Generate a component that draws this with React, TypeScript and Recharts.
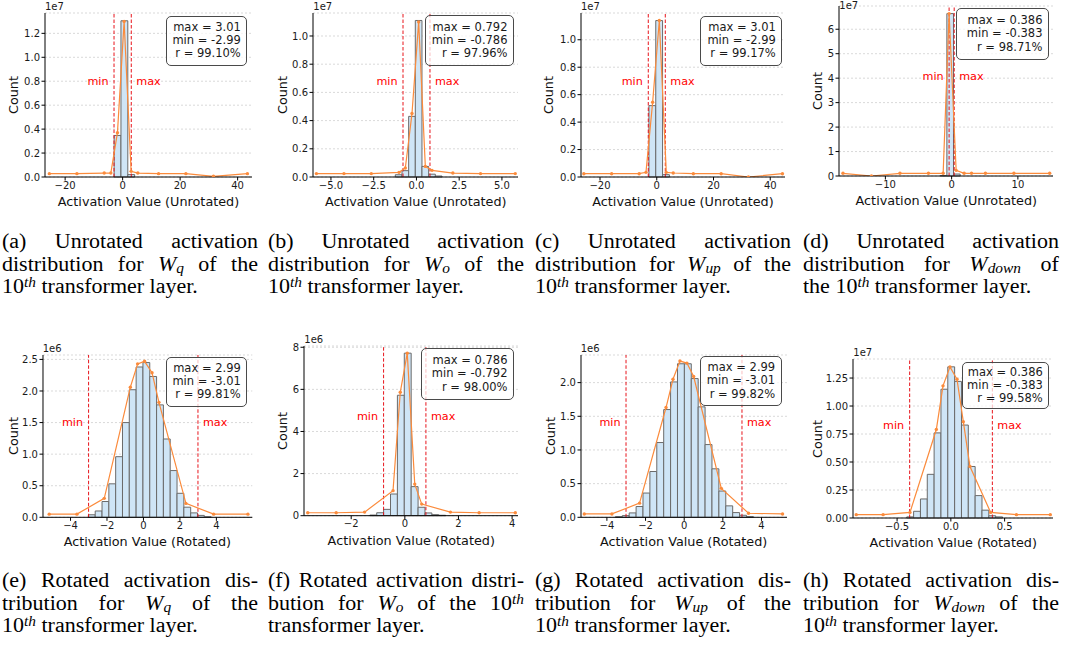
import React from "react";
import {
  ComposedChart,
  Line,
  XAxis,
  YAxis,
  CartesianGrid,
  ReferenceArea,
  ReferenceLine,
} from "recharts";

// ---- histogram bins (counts in units of the axis offset: 1e7 / 1e6) ----
const aBinStart = -2.96;
const aBinWidth = 2.38;
const aCounts = [0.347, 1.305, 0.02];
const bBinStart = -1.236;
const bBinWidth = 0.39;
const bCounts = [0.016, 0.045, 0.43, 1.11, 0.075, 0.02, 0.007];
const cBinStart = -2.75;
const cBinWidth = 2.4;
const cCounts = [0.52, 1.14, 0.017];
const dBinStart = -1.72;
const dBinWidth = 1.0;
const dCounts = [0.02, 6.64, 0.08];
const eBinStart = -3.02;
const eBinWidth = 0.374;
const eCounts = [0.04, 0.1, 0.25, 0.53, 0.96, 1.5, 2.02, 2.38, 2.45, 2.23, 1.78, 1.24, 0.74, 0.38, 0.16, 0.07, 0.03, 0.01];
const fBinStart = -1.305;
const fBinWidth = 0.257;
const fCounts = [0.03, 0.14, 0.3, 1.03, 5.72, 7.72, 1.38, 0.4, 0.13, 0.05, 0.02];
const gBinStart = -3.56;
const gBinWidth = 0.357;
const gCounts = [0.01, 0.025, 0.065, 0.16, 0.36, 0.68, 1.11, 1.6, 2.01, 2.28, 2.28, 2.06, 1.64, 1.08, 0.72, 0.39, 0.17, 0.07, 0.03, 0.01];
const hBinStart = -0.41;
const hBinWidth = 0.0636;
const hCounts = [0.01, 0.06, 0.17, 0.39, 0.76, 1.15, 1.35, 1.22, 0.83, 0.46, 0.2, 0.07, 0.02, 0.01];

// ---- orange outline curves ----
const aCurveX = [-25.5, -15.9, -6.4, -4.1, -1.8, 0.52, 2.96, 5.28, 12.5, 22.0, 31.6, 43.4];
const aCurveY = [0.028, 0.028, 0.033, 0.033, 0.37, 1.3, 0.047, 0.033, 0.028, 0.028, 0.006, 0.028];
const bCurveX = [-5.85, -4.24, -2.64, -1.02, -0.65, -0.26, 0.13, 0.52, 0.91, 2.13, 3.75, 5.78];
const bCurveY = [0.024, 0.024, 0.024, 0.033, 0.064, 0.45, 1.1, 0.075, 0.047, 0.028, 0.024, 0.024];
const cCurveX = [-25.7, -15.9, -6.2, -3.8, -1.45, 0.9, 3.36, 5.8, 12.9, 22.7, 32.3, 44.3];
const cCurveY = [0.024, 0.024, 0.024, 0.034, 0.545, 1.14, 0.034, 0.029, 0.024, 0.024, 0.0, 0.024];
const dCurveX = [-16.4, -12.1, -7.8, -3.5, -1.28, -0.38, 0.68, 1.89, 3.0, 5.1, 9.4, 14.8];
const dCurveY = [0.11, 0.0, 0.11, 0.11, 0.11, 6.64, 0.23, 0.11, 0.11, 0.11, 0.11, 0.11];
const eCurveX = [-5.17, -3.65, -2.15, -0.72, -0.32, 0.06, 0.47, 0.85, 2.33, 3.85, 5.73];
const eCurveY = [0.05, 0.05, 0.3, 2.06, 2.43, 2.47, 2.29, 1.82, 0.22, 0.05, 0.05];
const fCurveX = [-3.62, -2.56, -1.5, -0.44, -0.17, 0.09, 0.37, 0.63, 1.7, 2.77, 4.12];
const fCurveY = [0.14, 0.14, 0.17, 1.19, 5.86, 7.72, 1.5, 0.55, 0.17, 0.14, 0.14];
const gCurveX = [-5.17, -3.74, -2.31, -0.94, -0.58, -0.22, 0.14, 0.49, 1.92, 3.33, 5.09];
const gCurveY = [0.05, 0.05, 0.21, 1.63, 2.05, 2.32, 2.29, 2.09, 0.43, 0.06, 0.05];
const hCurveX = [-0.88, -0.63, -0.38, -0.135, -0.073, -0.008, 0.057, 0.116, 0.178, 0.37, 0.61, 0.925];
const hCurveY = [0.03, 0.03, 0.05, 0.79, 1.18, 1.35, 1.24, 0.86, 0.46, 0.05, 0.03, 0.03];

// ---- ticks ----
const aXTicks = [-20, 0, 20, 40];
const aYTicks = [0, 0.2, 0.4, 0.6, 0.8, 1.0, 1.2];
const bXTicks = [-5, -2.5, 0, 2.5, 5];
const bYTicks = [0, 0.2, 0.4, 0.6, 0.8, 1.0];
const cXTicks = [-20, 0, 20, 40];
const cYTicks = [0, 0.2, 0.4, 0.6, 0.8, 1.0];
const dXTicks = [-10, 0, 10];
const dYTicks = [0, 1, 2, 3, 4, 5, 6];
const eXTicks = [-4, -2, 0, 2, 4];
const eYTicks = [0, 0.5, 1.0, 1.5, 2.0, 2.5];
const fXTicks = [-2, 0, 2, 4];
const fYTicks = [0, 2, 4, 6, 8];
const gXTicks = [-4, -2, 0, 2, 4];
const gYTicks = [0, 0.5, 1.0, 1.5, 2.0];
const hXTicks = [-0.5, 0, 0.5];
const hYTicks = [0, 0.25, 0.5, 0.75, 1.0, 1.25];

// ---- clipping range and stats ----
const aRange = [-2.99, 3.01];
const bRange = [-0.786, 0.792];
const cRange = [-2.99, 3.01];
const dRange = [-0.383, 0.386];
const eRange = [-3.01, 2.99];
const fRange = [-0.792, 0.786];
const gRange = [-3.01, 2.99];
const hRange = [-0.383, 0.386];
const aStats = ["max = 3.01", "min = -2.99", "r = 99.10%"];
const bStats = ["max = 0.792", "min = -0.786", "r = 97.96%"];
const cStats = ["max = 3.01", "min = -2.99", "r = 99.17%"];
const dStats = ["max = 0.386", "min = -0.383", "r = 98.71%"];
const eStats = ["max = 2.99", "min = -3.01", "r = 99.81%"];
const fStats = ["max = 0.786", "min = -0.792", "r = 98.00%"];
const gStats = ["max = 2.99", "min = -3.01", "r = 99.82%"];
const hStats = ["max = 0.386", "min = -0.383", "r = 99.58%"];

const FONT = "'DejaVu Sans', sans-serif";
const SERIF = "'Liberation Serif', 'Times New Roman', serif";
const ORANGE = "#fb8b3c";
const BAR_FILL = "#cfe5f6";
const BAR_EDGE = "#6a6a6a";
const RED = "#e8141b";

type Panel = {
  binStart: number;
  binWidth: number;
  counts: number[];
  curveX: number[];
  curveY: number[];
  xTicks: number[];
  yTicks: number[];
  xDec: number;
  yDec: number;
  range: number[];
  stats: string[];
  scale: string;
  xLabel: string;
  plot: number[];
  xDomain: number[];
  yMax: number;
  countOff: number;
  box: number[];
};

const UNROT = "Activation Value (Unrotated)";
const ROT = "Activation Value (Rotated)";

const panels: Panel[] = [
  { binStart: aBinStart, binWidth: aBinWidth, counts: aCounts, curveX: aCurveX, curveY: aCurveY, xTicks: aXTicks, yTicks: aYTicks, xDec: 0, yDec: 1, range: aRange, stats: aStats, scale: "1e7", xLabel: UNROT,
    plot: [45, 13, 252, 177], xDomain: [-27, 45], yMax: 1.37, countOff: 32, box: [165.7, 15.7, 247.3, 65.7] },
  { binStart: bBinStart, binWidth: bBinWidth, counts: bCounts, curveX: bCurveX, curveY: bCurveY, xTicks: bXTicks, yTicks: bYTicks, xDec: 1, yDec: 1, range: bRange, stats: bStats, scale: "1e7", xLabel: UNROT,
    plot: [313.3, 13, 518.3, 177], xDomain: [-6.05, 5.94], yMax: 1.163, countOff: 31.6, box: [425, 15, 514, 66] },
  { binStart: cBinStart, binWidth: cBinWidth, counts: cCounts, curveX: cCurveX, curveY: cCurveY, xTicks: cXTicks, yTicks: cYTicks, xDec: 0, yDec: 1, range: cRange, stats: cStats, scale: "1e7", xLabel: UNROT,
    plot: [581, 13, 785, 177], xDomain: [-26.7, 45.2], yMax: 1.195, countOff: 32.7, box: [700, 15.7, 782.3, 65.7] },
  { binStart: dBinStart, binWidth: dBinWidth, counts: dCounts, curveX: dCurveX, curveY: dCurveY, xTicks: dXTicks, yTicks: dYTicks, xDec: 0, yDec: 0, range: dRange, stats: dStats, scale: "1e7", xLabel: UNROT,
    plot: [839.3, 6, 1053.3, 176], xDomain: [-17.0, 15.3], yMax: 6.95, countOff: 22.6, box: [956, 8.3, 1049, 60] },
  { binStart: eBinStart, binWidth: eBinWidth, counts: eCounts, curveX: eCurveX, curveY: eCurveY, xTicks: eXTicks, yTicks: eYTicks, xDec: 0, yDec: 1, range: eRange, stats: eStats, scale: "1e6", xLabel: ROT,
    plot: [42.7, 355, 252, 517.3], xDomain: [-5.51, 5.97], yMax: 2.57, countOff: 29.4, box: [165.7, 356.7, 247.3, 406.7] },
  { binStart: fBinStart, binWidth: fBinWidth, counts: fCounts, curveX: fCurveX, curveY: fCurveY, xTicks: fXTicks, yTicks: fYTicks, xDec: 0, yDec: 0, range: fRange, stats: fStats, scale: "1e6", xLabel: ROT,
    plot: [304.3, 346, 518.3, 515.7], xDomain: [-3.76, 4.22], yMax: 8.06, countOff: 22.6, box: [421, 348.3, 514, 400] },
  { binStart: gBinStart, binWidth: gBinWidth, counts: gCounts, curveX: gCurveX, curveY: gCurveY, xTicks: gXTicks, yTicks: gYTicks, xDec: 0, yDec: 1, range: gRange, stats: gStats, scale: "1e6", xLabel: ROT,
    plot: [580.7, 355, 786.7, 517.3], xDomain: [-5.34, 5.32], yMax: 2.41, countOff: 30.7, box: [700, 356, 781.7, 406] },
  { binStart: hBinStart, binWidth: hBinWidth, counts: hCounts, curveX: hCurveX, curveY: hCurveY, xTicks: hXTicks, yTicks: hYTicks, xDec: 1, yDec: 2, range: hRange, stats: hStats, scale: "1e7", xLabel: ROT,
    plot: [853.3, 359.3, 1053.3, 518.3], xDomain: [-0.91, 0.95], yMax: 1.42, countOff: 36.6, box: [961.7, 361.7, 1049.3, 409.3] },
];

const tickStyle = { fill: "#1a1a1a", fontSize: 10, fontFamily: FONT };

function rangeLabel(text: string, side: "l" | "r") {
  return (props: any) => {
    const vb = props && props.viewBox;
    if (!vb || vb.x == null) return null;
    const x = side === "l" ? vb.x - 5.5 : vb.x + 5;
    const y = vb.y + vb.height * 0.413 + 4;
    return (
      <text x={x} y={y} textAnchor={side === "l" ? "end" : "start"} fill="red" fontSize={11.2} fontFamily={FONT}>
        {text}
      </text>
    );
  };
}

function HistPanel({ p }: { p: Panel }) {
  const [x0, y0, x1, y1] = p.plot;
  const L = 50, T = 20, R = 8, XH = 30, MB = 4;
  const w = x1 - x0 + L + R;
  const h = y1 - y0 + T + XH + MB;
  const data = p.curveX.map((x, i) => ({ x, y: p.curveY[i] }));
  const fmtX = (v: number) => v.toFixed(p.xDec).replace("-", "\u2212");
  const fmtY = (v: number) => v.toFixed(p.yDec);
  const [bl, bt, br, bb] = p.box;
  return (
    <>
      <div style={{ position: "absolute", left: x0 - L, top: y0 - T }}>
        <ComposedChart width={w} height={h} data={data} margin={{ top: T, right: R, bottom: MB, left: 0 }}>
          <CartesianGrid vertical={false} stroke="#cfcfcf" strokeDasharray="2 2" strokeWidth={0.8} />
          <XAxis
            type="number"
            dataKey="x"
            domain={p.xDomain}
            allowDataOverflow
            ticks={p.xTicks}
            interval={0}
            tickFormatter={fmtX}
            height={XH}
            tickSize={3.5}
            tickMargin={1}
            stroke="#000"
            tick={tickStyle}
          />
          <YAxis
            type="number"
            domain={[0, p.yMax]}
            allowDataOverflow
            ticks={p.yTicks}
            interval={0}
            tickFormatter={fmtY}
            width={L}
            tickSize={3.5}
            tickMargin={1.5}
            stroke="#000"
            tick={tickStyle}
          />
          {p.counts.map((c, i) => (
            <ReferenceArea
              key={i}
              x1={p.binStart + i * p.binWidth}
              x2={p.binStart + (i + 1) * p.binWidth}
              y1={0}
              y2={c}
              fill={BAR_FILL}
              fillOpacity={1}
              stroke={BAR_EDGE}
              strokeWidth={1}
            />
          ))}
          <ReferenceLine x={p.range[0]} stroke={RED} strokeDasharray="3.5 2" strokeWidth={1} label={rangeLabel("min", "l")} />
          <ReferenceLine x={p.range[1]} stroke={RED} strokeDasharray="3.5 2" strokeWidth={1} label={rangeLabel("max", "r")} />
          <Line
            dataKey="y"
            stroke={ORANGE}
            strokeWidth={1.2}
            dot={{ r: 1.7, fill: ORANGE, stroke: ORANGE, strokeWidth: 0 }}
            isAnimationActive={false}
          />
        </ComposedChart>
      </div>
      <div style={{ position: "absolute", left: x0, top: Math.max(0, y0 - 12), fontSize: 10, lineHeight: "12px", color: "#1a1a1a" }}>{p.scale}</div>
      <div
        style={{
          position: "absolute",
          left: x0 - p.countOff,
          top: (y0 + y1) / 2,
          transform: "translate(-50%, -50%) rotate(-90deg)",
          fontSize: 12.8,
          whiteSpace: "nowrap",
          color: "#111",
        }}
      >
        Count
      </div>
      <div
        style={{
          position: "absolute",
          left: (x0 + x1) / 2,
          top: y1 + 24,
          transform: "translate(-50%, -50%)",
          fontSize: 12.8,
          whiteSpace: "nowrap",
          color: "#111",
        }}
      >
        {p.xLabel}
      </div>
      <div
        style={{
          position: "absolute",
          left: bl,
          top: bt,
          width: br - bl,
          height: bb - bt,
          boxSizing: "border-box",
          border: "1px solid #4a4a4a",
          borderRadius: 5,
          background: "rgba(255,255,255,0.72)",
          display: "flex",
          flexDirection: "column",
          justifyContent: "center",
          alignItems: "flex-end",
          paddingRight: 5.5,
          fontSize: 11.5,
          lineHeight: "13.3px",
          color: "#1a1a1a",
          whiteSpace: "nowrap",
        }}
      >
        {p.stats.map((s) => (
          <div key={s}>{s}</div>
        ))}
      </div>
    </>
  );
}

// ---- captions ----
const Wsub = ({ s }: { s: string }) => (
  <span style={{ whiteSpace: "nowrap" }}>
    <i>W</i>
    <i style={{ fontSize: "0.7em", position: "relative", top: "0.2em" }}>{s}</i>
  </span>
);
const Tenth = () => (
  <span style={{ whiteSpace: "nowrap" }}>
    10<i style={{ fontSize: "0.7em", position: "relative", top: "-0.4em" }}>th</i>
  </span>
);

const capTop: React.ReactNode[][][] = [
  [["(a)", "Unrotated", "activation"], ["distribution", "for", <Wsub s="q" />, "of", "the"], [<Tenth />, "transformer", "layer."]],
  [["(b)", "Unrotated", "activation"], ["distribution", "for", <Wsub s="o" />, "of", "the"], [<Tenth />, "transformer", "layer."]],
  [["(c)", "Unrotated", "activation"], ["distribution", "for", <Wsub s="up" />, "of", "the"], [<Tenth />, "transformer", "layer."]],
  [["(d)", "Unrotated", "activation"], ["distribution", "for", <Wsub s="down" />, "of"], ["the", <Tenth />, "transformer", "layer."]],
];
const capBottom: React.ReactNode[][][] = [
  [["(e)", "Rotated", "activation", "dis-"], ["tribution", "for", <Wsub s="q" />, "of", "the"], [<Tenth />, "transformer", "layer."]],
  [["(f)", "Rotated", "activation", "distri-"], ["bution", "for", <Wsub s="o" />, "of", "the", <Tenth />], ["transformer", "layer."]],
  [["(g)", "Rotated", "activation", "dis-"], ["tribution", "for", <Wsub s="up" />, "of", "the"], [<Tenth />, "transformer", "layer."]],
  [["(h)", "Rotated", "activation", "dis-"], ["tribution", "for", <Wsub s="down" />, "of", "the"], [<Tenth />, "transformer", "layer."]],
];
const capLeft = [2, 268, 535, 803];
const capWidth = 256;
const capStretch = 1.1;

function Caption({ lines, left, top }: { lines: React.ReactNode[][]; left: number; top: number }) {
  return (
    <div
      style={{
        position: "absolute",
        left,
        top,
        width: capWidth / capStretch,
        transform: `scaleX(${capStretch})`,
        transformOrigin: "0 0",
        fontFamily: SERIF,
        fontSize: 20,
        lineHeight: "22.5px",
        color: "#000",
      }}
    >
      {lines.map((words, li) => {
        const last = li === lines.length - 1;
        return (
          <div
            key={li}
            style={{
              display: "flex",
              justifyContent: last ? "flex-start" : "space-between",
              gap: last ? "0.25em" : "0.12em",
              whiteSpace: "nowrap",
              height: 22.5,
            }}
          >
            {words.map((wd, wi) => (
              <span key={wi}>{wd}</span>
            ))}
          </div>
        );
      })}
    </div>
  );
}

export default function App() {
  return (
    <div style={{ position: "absolute", left: 0, top: 0, width: 1065, height: 651, background: "#fff", fontFamily: FONT, overflow: "hidden" }}>
      {panels.map((p, i) => (
        <HistPanel key={i} p={p} />
      ))}
      {capTop.map((c, i) => (
        <Caption key={"t" + i} lines={c} left={capLeft[i]} top={230} />
      ))}
      {capBottom.map((c, i) => (
        <Caption key={"b" + i} lines={c} left={capLeft[i]} top={569} />
      ))}
    </div>
  );
}
